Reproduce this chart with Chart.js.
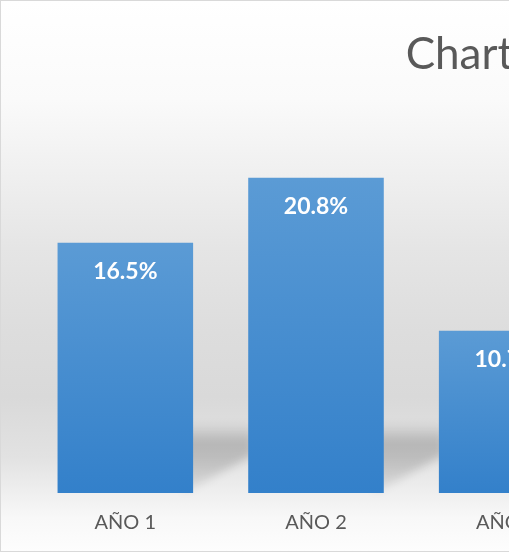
<!DOCTYPE html>
<html>
<head>
<meta charset="utf-8">
<script src="https://cdn.jsdelivr.net/npm/chart.js@4"></script>
<style>
  body { margin: 0; background: #fff; }
  #frame { width: 509px; height: 553px; overflow: hidden; position: relative; }
  #box {
    position: absolute; left: 0; top: 0;
    width: 985px; height: 550px;
    border: 1px solid #d9d9d9;
    background: linear-gradient(to bottom, #ffffff 0%, #fafafa 18%, #e5e5e5 45%, #dddddd 60%,
      #d9d9d9 72%, #e2e2e2 83%, #eeeeee 89%, #f8f8f8 94%, #fdfdfd 100%);
  }
</style>
</head>
<body>
<div id="frame">
  <div id="box">
    <canvas id="yearsChart" width="985" height="550"></canvas>
  </div>
</div>
<script>
// Data block
const years = ['AÑO 1', 'AÑO 2', 'AÑO 3'];
const percentValues = [16.5, 20.8, 10.7];
const chartTitle = 'Chart Title';

// Bar fill: light blue at the top of each bar, deeper blue at the base
function barFill(context) {
    const chart = context.chart;
    const yScale = chart.scales.y;
    if (!chart.chartArea || !yScale) return '#4a8fd2';
    const top = yScale.getPixelForValue(context.raw);
    const base = yScale.getPixelForValue(0);
    const g = chart.ctx.createLinearGradient(0, top, 0, base);
    g.addColorStop(0, '#5b9bd5');
    g.addColorStop(1, '#3380ca');
    return g;
}

// Floor shadow plugin block (soft shadow to the right of each bar)
const floorShadow = {
    id: 'floorShadow',
    beforeDatasetsDraw(chart) {
        const {ctx} = chart;
        const meta = chart.getDatasetMeta(0);
        ctx.save();
        ctx.filter = 'blur(4px)';
        meta.data.forEach(bar => {
            const right = bar.x + bar.width / 2;
            const base = bar.base;
            const g = ctx.createLinearGradient(0, base - 70, 0, base);
            g.addColorStop(0, 'rgba(0,0,0,0)');
            g.addColorStop(0.28, 'rgba(0,0,0,0.19)');
            g.addColorStop(0.6, 'rgba(0,0,0,0.15)');
            g.addColorStop(1, 'rgba(0,0,0,0.06)');
            ctx.fillStyle = g;
            ctx.beginPath();
            ctx.moveTo(right - 10, base - 70);
            ctx.lineTo(right + 60, base - 70);
            ctx.lineTo(right + 60, base - 38);
            ctx.lineTo(right - 10, base);
            ctx.closePath();
            ctx.fill();
        });
        ctx.restore();
    }
};

// Value labels plugin block
const barValueLabels = {
    id: 'barValueLabels',
    afterDatasetsDraw(chart) {
        const {ctx} = chart;
        const meta = chart.getDatasetMeta(0);
        ctx.save();
        ctx.font = 'bold 23px Lato';
        ctx.fillStyle = '#ffffff';
        ctx.textAlign = 'center';
        ctx.textBaseline = 'middle';
        meta.data.forEach((bar, i) => {
            ctx.fillText(percentValues[i].toFixed(1) + '%', bar.x, bar.y + 29);
        });
        ctx.restore();
    }
};

// Config block
const yearsConfig = {
    type: 'bar',
    data: {
        labels: years,
        datasets: [{
            label: 'Series 1',
            data: percentValues,
            backgroundColor: barFill,
            borderWidth: 0,
            barPercentage: 0.711,
            categoryPercentage: 1
        }]
    },
    options: {
        responsive: false,
        animation: false,
        layout: {
            padding: { left: 29, right: 0, top: 0, bottom: 6 }
        },
        plugins: {
            legend: { display: false },
            tooltip: { enabled: false },
            title: {
                display: true,
                text: chartTitle,
                color: '#595959',
                font: { family: 'Lato', size: 44, weight: 'normal', lineHeight: 1.2 },
                padding: { top: 27, bottom: 18 }
            }
        },
        scales: {
            x: {
                grid: { display: false },
                border: { display: false },
                ticks: {
                    color: '#595959',
                    font: { family: 'Lato', size: 20 },
                    padding: 10,
                    maxRotation: 0
                }
            },
            y: {
                // hidden axis kept on the right so the plot only covers the visible years
                position: 'right',
                min: 0,
                max: 26,
                grid: { display: false },
                border: { display: false },
                ticks: { display: false },
                afterFit(scale) {
                    scale.width = 384;
                }
            }
        }
    },
    plugins: [floorShadow, barValueLabels]
};

// render / init block
const yearsChart = new Chart(
    document.getElementById('yearsChart'),
    yearsConfig
);
</script>
</body>
</html>
